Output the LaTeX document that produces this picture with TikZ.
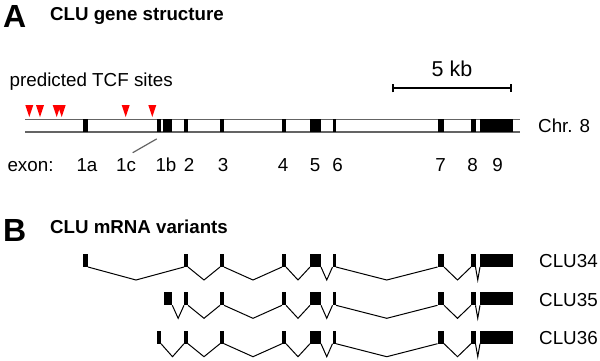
\documentclass[tikz,border=0pt]{standalone}
\usepackage{fontspec}
\setmainfont{Liberation Sans}
\usepackage{tikz}
\usetikzlibrary{positioning, calc, arrows.meta}
\definecolor{chrgray}{RGB}{100,100,100}
\definecolor{tcfred}{RGB}{255,0,0}

\begin{document}
\begin{tikzpicture}[x=1pt, y=-1pt, font=\fontsize{18.8}{22}\selectfont,
    exon/.style={fill=black, inner sep=0pt, outer sep=0pt, anchor=north west},
    intron/.style={black, line width=1pt, line join=miter},
    lbl/.style={anchor=base, inner sep=0pt},
    panel/.style={anchor=base west, inner sep=0pt, font=\fontsize{32}{34}\selectfont\bfseries},
    heading/.style={anchor=base west, inner sep=0pt, font=\fontsize{18.7}{22}\selectfont\bfseries}]
    \useasboundingbox (0,0) rectangle (600,360);

    % Panel A
    \node[panel] (pA) at (3,27.3) {A};
    \node[heading] (tA) at (50,20.7) {CLU gene structure};

    % Scale bar
    \coordinate (sbL) at (392,88.3);
    \coordinate (sbR) at (512,88.3);
    \draw[{Bar[width=8pt]}-{Bar[width=8pt]}, line width=1.8pt] (sbL) -- (sbR);
    \node[lbl, font=\fontsize{21.5}{24}\selectfont] (kb) at ($(sbL)!.5!(sbR)+(0,-11.5)$) {5 kb};

    % TCF sites
    \node[anchor=base west, inner sep=0pt] (tcf) at (9.5,86) {predicted TCF sites};
    \foreach \x in {29.3, 40, 56.7, 61.7, 125.7, 152.3}
      \fill[tcfred] (\x-4,105) -- (\x+4,105) -- (\x,117) -- cycle;

    % Chromosome
    \coordinate (chrL) at (25,119.5);
    \coordinate (chrR) at (520,119.5);
    \draw[chrgray, line width=1.8pt] (chrL) -- (chrR);
    \draw[chrgray, line width=1.8pt] ($(chrL)+(0,12.2)$) -- ($(chrR)+(0,12.2)$);
    \foreach \n/\a/\b in {1a/82.5/88, 1c/156.7/160.7, 1b/163.3/171.8, 2/184/188, 3/220/224,
        4/282/286, 5/310/321, 6/332.5/336, 7/437.5/444, 8/471/475.5, 9/480/512.5}
      \node[exon, minimum width={(\b-\a)*1pt}, minimum height=13.6pt] (c\n) at (\a,118.8) {};
    \node[anchor=west, inner sep=0pt] (chr) at (538,125.6) {Chr. 8};

    % Exon labels
    \node[anchor=base west, inner sep=0pt] (exon) at (7.3,171) {exon:};
    \foreach \n/\x in {1a/87, 1c/126, 1b/166, 2/189, 3/223, 4/283, 5/315, 6/337.7,
        7/440.7, 8/472.7, 9/497.7}
      \node[lbl] (l\n) at (\x,171) {\n};
    \coordinate (tick1c) at (132.7,152.7);
    \draw[chrgray, line width=1.2pt] ($(c1c.south)+(-2,6.5)$) -- (tick1c);

    % Panel B
    \node[panel] (pB) at (3,241) {B};
    \node[heading] (tB) at (50,233.3) {CLU mRNA variants};

    % mRNA variants
    \foreach \row/\top/\first/\fa/\fb in {34/254/1a/82.5/88, 35/292.3/1b/164/172.3,
        36/330.7/1c/156.7/161} {
      \node[exon, minimum width={(\fb-\fa)*1pt}, minimum height=13pt] (r\row-\first) at (\fa,\top) {};
      \foreach \n/\a/\b [remember=\n as \prev (initially \first)] in {2/184/188, 3/220/224,
          4/282/286, 5/310/321, 6/332.5/336, 7/437.5/444, 8/471/475.5, 9/480/512.5} {
        \node[exon, minimum width={(\b-\a)*1pt}, minimum height=13pt] (r\row-\n) at (\a,\top) {};
        \draw[intron] (r\row-\prev.south east)
          -- ($(r\row-\prev.south east)!.5!(r\row-\n.south west)+(0,13)$)
          -- (r\row-\n.south west);
      }
      \node[anchor=west, inner sep=0pt] (v\row) at (539,\top+7.5) {CLU\row};
    }
\end{tikzpicture}
\end{document}
